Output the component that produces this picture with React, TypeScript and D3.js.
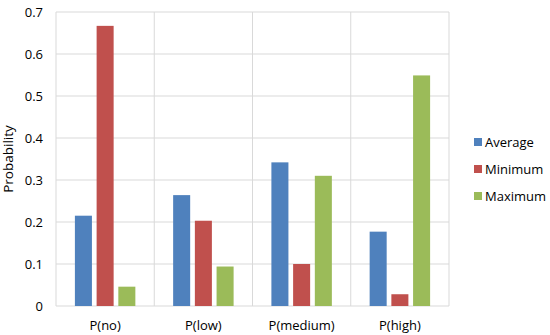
import * as d3 from 'd3';

const categories = ['P(no)', 'P(low)', 'P(medium)', 'P(high)'];
const seriesNames = ['Average', 'Minimum', 'Maximum'];
const average = [0.215, 0.264, 0.342, 0.177];
const minimum = [0.667, 0.203, 0.1, 0.028];
const maximum = [0.046, 0.094, 0.31, 0.549];
const yTicks = [0, 0.1, 0.2, 0.3, 0.4, 0.5, 0.6, 0.7];
const colors = ['#4F81BD', '#C0504D', '#9BBB59'];

const width = 550;
const height = 335;
const margin = { left: 56, top: 12, right: 101, bottom: 29 };
const font = "'Open Sans', 'Liberation Sans', sans-serif";

export default function App() {
  const series = [average, minimum, maximum];
  const innerW = width - margin.left - margin.right;
  const innerH = height - margin.top - margin.bottom;

  const x = d3.scaleBand<string>().domain(categories).range([0, innerW]);
  const xInner = d3
    .scaleBand<string>()
    .domain(seriesNames)
    .range([0, x.bandwidth()])
    .paddingInner(0.216)
    .paddingOuter(0.87);
  const y = d3.scaleLinear().domain([0, 0.7]).range([innerH, 0]);
  const gridColor = '#D9D9D9';

  return (
    <svg
      width={width}
      height={height}
      style={{ position: 'absolute', left: 0, top: 0, background: '#fff' }}
      fontFamily={font}
    >
      <g transform={`translate(${margin.left},${margin.top})`}>
        {yTicks.map((t) => (
          <line key={t} x1={0} x2={innerW} y1={y(t)} y2={y(t)} stroke={gridColor} strokeWidth={1} />
        ))}
        {categories.map((c) => (
          <line key={c} x1={x(c)! + x.bandwidth()} x2={x(c)! + x.bandwidth()} y1={0} y2={innerH} stroke={gridColor} />
        ))}
        <line x1={0} x2={0} y1={0} y2={innerH} stroke={gridColor} />
        {yTicks.map((t) => (
          <text key={t} x={-13} y={y(t)} dy="0.35em" textAnchor="end" fontSize={13} fill="#000">
            {d3.format('')(t)}
          </text>
        ))}
        {categories.map((c, i) => (
          <g key={c}>
            {series.map((s, j) => (
              <rect
                key={j}
                x={x(c)! + xInner(seriesNames[j])!}
                y={y(s[i])}
                width={xInner.bandwidth()}
                height={innerH - y(s[i])}
                fill={colors[j]}
              />
            ))}
            <text x={x(c)! + x.bandwidth() / 2} y={innerH + 24} textAnchor="middle" fontSize={13} fill="#000">
              {c}
            </text>
          </g>
        ))}
        <text
          transform={`translate(${-43},${innerH / 2}) rotate(-90)`}
          textAnchor="middle"
          fontSize={13.5}
          fill="#000"
        >
          Probability
        </text>
      </g>
      <g transform="translate(474,0)">
        {seriesNames.map((n, j) => (
          <g key={n} transform={`translate(0,${142 + j * 27})`}>
            <rect x={0} y={-4} width={8} height={8} fill={colors[j]} />
            <text x={11} y={0} dy="0.35em" fontSize={13} fill="#000">
              {n}
            </text>
          </g>
        ))}
      </g>
    </svg>
  );
}
